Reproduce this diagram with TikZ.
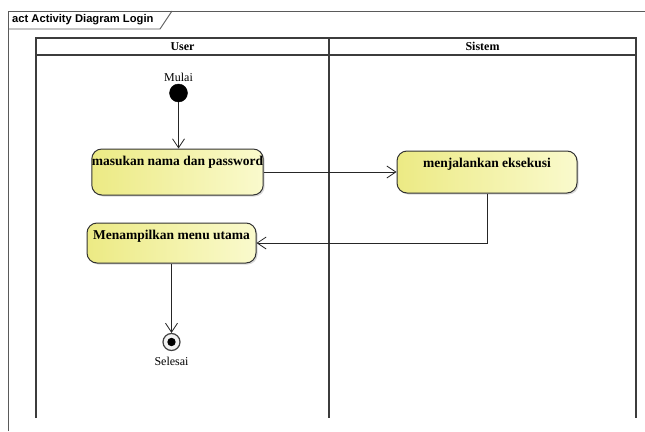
\documentclass[tikz,border=0pt]{standalone}
\usepackage{fontspec}
\setmainfont{Liberation Serif}
\newfontfamily\titlefont{Liberation Sans}
\usetikzlibrary{arrows.meta,shadows}

\definecolor{actleft}{RGB}{236,234,132}
\definecolor{actright}{RGB}{250,250,205}
\definecolor{framegray}{RGB}{90,90,90}
\definecolor{lanegray}{RGB}{60,60,60}

\tikzset{
  action/.style={draw=black!80, line width=1pt, rounded corners=10pt,
    left color=actleft, right color=actright, inner sep=0pt,
    font=\fontsize{13.5}{15}\selectfont\bfseries, text height=16pt,
    drop shadow={shadow xshift=1.5pt, shadow yshift=-1.5pt, opacity=0.25, fill=black!60}},
  flow/.style={draw=black!85, line width=0.8pt,
    -{Straight Barb[length=9pt,width=12pt,line width=0.8pt]}},
  lane/.style={draw=lanegray, line width=1.4pt},
  lanehead/.style={font=\fontsize{12}{14}\selectfont\bfseries},
  caption/.style={font=\fontsize{12}{14}\selectfont}
}

\begin{document}
\begin{tikzpicture}[x=1pt,y=-1pt]
  \useasboundingbox (0,0) rectangle (645,431);

  % diagram frame with its name tab
  \draw[framegray, line width=0.9pt] (8,431) -- (8,11) -- (645,11);
  \draw[framegray, line width=0.9pt] (8,29) -- (160,29) -- (172,11);
  \node[anchor=west, font=\titlefont\fontsize{11.2}{13}\selectfont\bfseries, inner sep=0pt]
    (title) at (12,20) {act Activity Diagram Login};

  % swimlanes
  \draw[lane] (36,418) -- (36,38) -- (636,38) -- (636,418);
  \draw[lane] (36,55) -- (636,55);
  \draw[lane] (329,38) -- (329,418);
  \node[lanehead] (user) at (182.5,46.5) {User};
  \node[lanehead] (sistem) at (482.5,46.5) {Sistem};

  % start node
  \node[circle, fill=black, draw=black, minimum size=18pt, inner sep=0pt] (start) at (178.5,93) {};
  \node[caption, inner sep=0pt] (mulai) at (178.5,77) {Mulai};

  % actions
  \node[action, minimum width=169pt, minimum height=46pt, text depth=30pt]
    (a1) at (177.5,172) {masukan nama dan password};
  \node[action, minimum width=180pt, minimum height=42pt, text depth=26pt]
    (a2) at (487,172) {menjalankan eksekusi};
  \node[action, minimum width=169pt, minimum height=40pt, text depth=23pt]
    (a3) at (171.5,243) {Menampilkan menu utama};

  % final node
  \node[circle, draw=black!75, line width=1.2pt, fill=black!5, minimum size=17pt, inner sep=0pt]
    (final) at (171.5,342) {};
  \fill[black] (final.center) circle (4.2pt);
  \node[caption, inner sep=0pt] (selesai) at (171.5,361) {Selesai};

  % control flows
  \draw[flow] (start.south) -- (start.south |- a1.north);
  \draw[flow] (a1.east) -- (a2.west);
  \draw[flow] (a2.south) |- (a3.east);
  \draw[flow] (a3.south) -- (final.north);
\end{tikzpicture}
\end{document}
